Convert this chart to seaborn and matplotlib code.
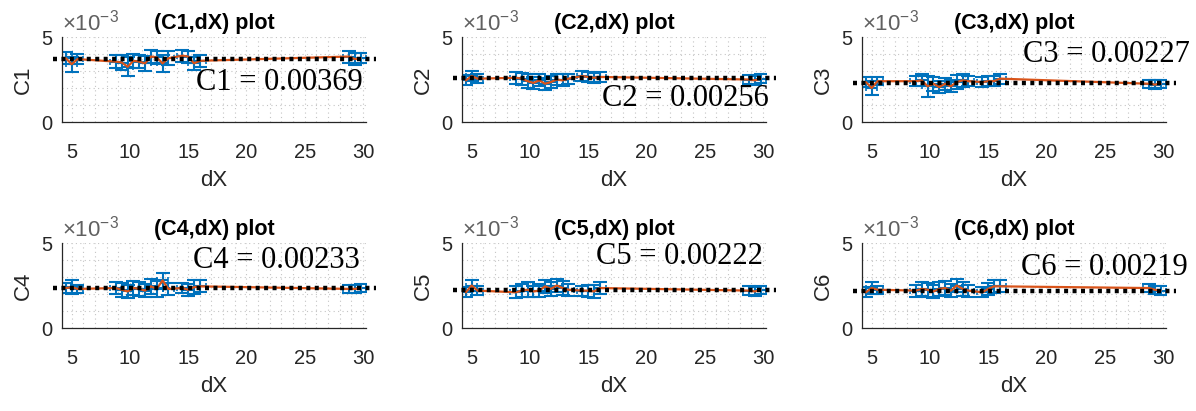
import numpy as np
import pandas as pd
import matplotlib
matplotlib.use("Agg")
import matplotlib.pyplot as plt
from matplotlib.ticker import MultipleLocator, FixedLocator, FixedFormatter
import seaborn as sns

# ---------------- data (values in units of 1e-3 unless noted) ----------------
dX = [4.5, 5.0, 5.5, 8.8, 9.3, 9.8, 10.3, 10.8, 11.3, 11.8, 12.3, 12.8, 13.3,
      14.5, 15.0, 15.5, 16.0, 28.8, 29.3, 29.8]
dX_err = [0.5] * len(dX)

names = ["C1", "C2", "C3", "C4", "C5", "C6"]
fit_values = [0.00369, 0.00256, 0.00227, 0.00233, 0.00222, 0.00219]
fit_labels = ["C1 = 0.00369", "C2 = 0.00256", "C3 = 0.00227",
              "C4 = 0.00233", "C5 = 0.00222", "C6 = 0.00219"]

C1_vals = [3.75, 3.40, 3.70, 3.55, 3.50, 3.25, 3.60, 3.55, 3.45, 3.85, 3.80, 3.45, 3.75,
           3.90, 3.85, 3.45, 3.60, 3.85, 3.70, 3.75]
C2_vals = [2.45, 2.70, 2.55, 2.60, 2.55, 2.40, 2.30, 2.45, 2.25, 2.35, 2.50, 2.45, 2.55,
           2.70, 2.65, 2.60, 2.65, 2.50, 2.45, 2.55]
C3_vals = [2.35, 2.00, 2.40, 2.40, 2.45, 2.10, 2.25, 2.05, 2.25, 2.10, 2.35, 2.45, 2.40,
           2.35, 2.40, 2.40, 2.55, 2.25, 2.20, 2.25]
C4_vals = [2.35, 2.40, 2.30, 2.35, 2.25, 2.15, 2.35, 2.30, 2.20, 2.45, 2.30, 2.80, 2.30,
           2.35, 2.25, 2.40, 2.45, 2.30, 2.30, 2.35]
C5_vals = [2.10, 2.50, 2.20, 2.10, 2.20, 2.25, 2.15, 2.20, 2.45, 2.30, 2.50, 2.35, 2.25,
           2.20, 2.20, 2.15, 2.35, 2.20, 2.15, 2.25]
C6_vals = [2.10, 2.35, 2.25, 2.20, 2.30, 2.25, 2.15, 2.30, 2.35, 2.20, 2.50, 2.30, 2.20,
           2.10, 2.30, 2.45, 2.45, 2.35, 2.25, 2.20]

C1_err = [0.35, 0.45, 0.30, 0.40, 0.45, 0.55, 0.40, 0.40, 0.45, 0.40, 0.40, 0.50, 0.40,
          0.35, 0.35, 0.40, 0.35, 0.35, 0.35, 0.30]
C2_err = [0.30, 0.30, 0.25, 0.35, 0.35, 0.40, 0.35, 0.35, 0.35, 0.35, 0.35, 0.35, 0.30,
          0.30, 0.30, 0.30, 0.30, 0.25, 0.25, 0.25]
C3_err = [0.30, 0.40, 0.25, 0.30, 0.35, 0.60, 0.40, 0.35, 0.35, 0.35, 0.40, 0.40, 0.30,
          0.30, 0.30, 0.30, 0.30, 0.25, 0.25, 0.25]
C4_err = [0.30, 0.40, 0.25, 0.35, 0.40, 0.40, 0.40, 0.40, 0.40, 0.45, 0.45, 0.45, 0.35,
          0.30, 0.35, 0.40, 0.35, 0.25, 0.25, 0.25]
C5_err = [0.30, 0.35, 0.25, 0.35, 0.40, 0.45, 0.35, 0.40, 0.40, 0.40, 0.40, 0.40, 0.35,
          0.30, 0.35, 0.40, 0.35, 0.25, 0.25, 0.25]
C6_err = [0.30, 0.35, 0.25, 0.35, 0.40, 0.40, 0.40, 0.40, 0.40, 0.40, 0.40, 0.40, 0.35,
          0.30, 0.35, 0.40, 0.35, 0.25, 0.25, 0.25]

all_vals = [C1_vals, C2_vals, C3_vals, C4_vals, C5_vals, C6_vals]
all_errs = [C1_err, C2_err, C3_err, C4_err, C5_err, C6_err]

ref_line_x = [3.4, 31.1]
x_ticks = [5, 10, 15, 20, 25, 30]
y_tick_vals = [0.0, 0.005]
y_tick_labels = ["0", "5"]

# ---------------- style ----------------
sns.set_style("white")
plt.rcParams["font.family"] = ["Liberation Sans", "DejaVu Sans"]
plt.rcParams["mathtext.fontset"] = "custom"
plt.rcParams["mathtext.rm"] = "Liberation Sans"

BLUE = "#0072BD"
ORANGE = "#D95319"
DARK = "#262626"

W, H = 1196, 411
fig = plt.figure(figsize=(W / 100, H / 100), dpi=100)

col_left = [62, 462, 862]
row_top = [37, 243]
ax_w, ax_h = 304, 85

text_pos = [(0.99, 0.47), (1.01, 0.28), (1.08, 0.79),
            (0.98, 0.80), (0.99, 0.84), (1.07, 0.71)]

for i in range(6):
    r, c = divmod(i, 3)
    left = col_left[c] / W
    bottom = 1 - (row_top[r] + ax_h) / H
    ax = fig.add_axes([left, bottom, ax_w / W, ax_h / H])

    yv = np.array(all_vals[i]) * 1e-3
    ye = np.array(all_errs[i]) * 1e-3
    df = pd.DataFrame({"dX": dX, "val": yv})

    # vertical error bars with wide caps
    ax.errorbar(dX, yv, yerr=ye, fmt="none", ecolor=BLUE,
                elinewidth=1.5, capsize=5, capthick=1.5, zorder=2)
    # horizontal error bars with small caps
    ax.errorbar(dX, yv, xerr=dX_err, fmt="none", ecolor=BLUE,
                elinewidth=1.5, capsize=2, capthick=1.2, zorder=2)
    sns.lineplot(data=df, x="dX", y="val", ax=ax, color=ORANGE, linewidth=1.6,
                 zorder=3, legend=False)
    ax.plot(ref_line_x, [fit_values[i]] * 2, color="black", linewidth=3.2,
            linestyle=(0, (0.9, 1.0)), zorder=4, clip_on=False)

    ax.set_xlim(4.17, 30.26)
    ax.set_ylim(0, 0.005)
    ax.xaxis.set_major_locator(FixedLocator(x_ticks))
    ax.xaxis.set_minor_locator(MultipleLocator(1))
    ax.yaxis.set_major_locator(FixedLocator(y_tick_vals))
    ax.yaxis.set_major_formatter(FixedFormatter(y_tick_labels))
    ax.yaxis.set_minor_locator(MultipleLocator(0.001))

    ax.grid(True, which="both", linestyle=(0, (1, 3)), color="#c4c4c4",
            linewidth=0.8)
    ax.set_axisbelow(True)
    for s in ["top", "right"]:
        ax.spines[s].set_visible(False)
    for s in ["left", "bottom"]:
        ax.spines[s].set_color(DARK)
        ax.spines[s].set_linewidth(0.9)

    ax.tick_params(axis="x", which="major", direction="in", length=4,
                   color=DARK, labelsize=14.5, labelcolor=DARK, pad=15)
    ax.tick_params(axis="y", which="major", direction="in", length=4,
                   color=DARK, labelsize=14.5, labelcolor=DARK, pad=7)
    ax.tick_params(which="minor", length=0)

    ax.set_xlabel("dX", fontsize=16, color=DARK, labelpad=6)
    ax.set_ylabel(names[i], fontsize=16, color=DARK, labelpad=5)
    ax.set_title(f"({names[i]},dX) plot", fontsize=15.5, fontweight="bold",
                 color="black", pad=6)

    ax.text(0.0, 1.02, r"$\times10^{-3}$", transform=ax.transAxes,
            ha="left", va="bottom", fontsize=16, color="#606060")

    tx, ty = text_pos[i]
    ax.text(tx, ty, fit_labels[i], transform=ax.transAxes, ha="right",
            va="center", fontsize=22, family="Liberation Serif", color="black",
            zorder=6, clip_on=False)

fig.savefig("out.png", dpi=100)
